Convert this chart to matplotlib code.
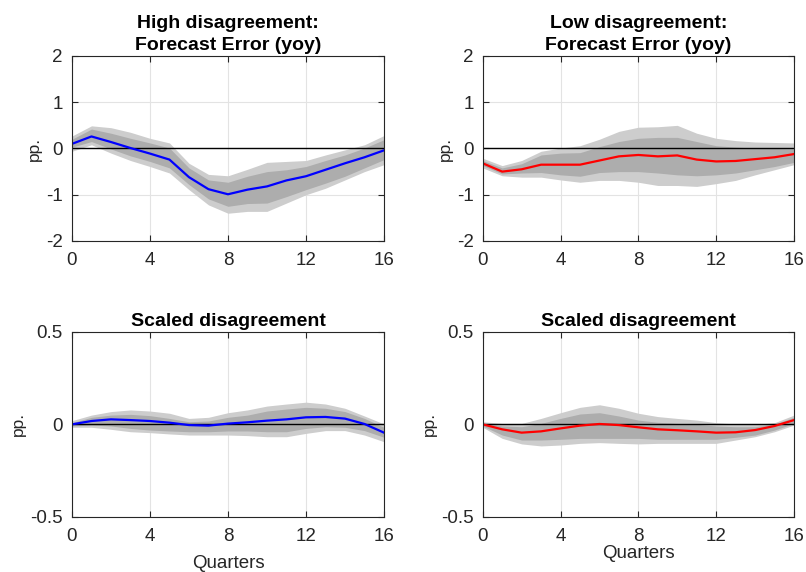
import numpy as np
import matplotlib.pyplot as plt

plt.rcParams['font.family'] = ['Liberation Sans', 'DejaVu Sans']

quarters = np.arange(17)

# High disagreement: forecast error (yoy)
fe_high = [0.10, 0.26, 0.14, 0.01, -0.11, -0.24, -0.62, -0.88, -0.99, -0.89,
           -0.82, -0.69, -0.60, -0.46, -0.32, -0.19, -0.04]
fe_high_lo90 = [-0.06, 0.08, -0.10, -0.26, -0.39, -0.53, -0.89, -1.22, -1.40, -1.36,
                -1.36, -1.18, -1.00, -0.86, -0.68, -0.50, -0.35]
fe_high_lo68 = [0.03, 0.15, -0.01, -0.16, -0.28, -0.42, -0.78, -1.09, -1.25, -1.19,
                -1.18, -1.04, -0.89, -0.75, -0.60, -0.42, -0.24]
fe_high_hi68 = [0.20, 0.42, 0.33, 0.22, 0.12, 0.01, -0.42, -0.68, -0.73, -0.60,
                -0.50, -0.46, -0.39, -0.26, -0.14, 0.01, 0.19]
fe_high_hi90 = [0.27, 0.49, 0.45, 0.35, 0.22, 0.12, -0.32, -0.56, -0.59, -0.45,
                -0.30, -0.28, -0.26, -0.14, -0.03, 0.08, 0.28]

# Low disagreement: forecast error (yoy)
fe_low = [-0.32, -0.50, -0.45, -0.35, -0.35, -0.35, -0.26, -0.17, -0.14, -0.17,
          -0.15, -0.24, -0.28, -0.27, -0.23, -0.19, -0.12]
fe_low_lo90 = [-0.42, -0.59, -0.62, -0.62, -0.68, -0.73, -0.69, -0.69, -0.73, -0.80,
               -0.80, -0.82, -0.76, -0.69, -0.57, -0.46, -0.35]
fe_low_lo68 = [-0.37, -0.55, -0.53, -0.52, -0.57, -0.60, -0.52, -0.50, -0.50, -0.53,
               -0.57, -0.59, -0.57, -0.53, -0.46, -0.39, -0.30]
fe_low_hi68 = [-0.26, -0.42, -0.33, -0.14, -0.10, -0.09, 0.04, 0.15, 0.22, 0.24,
               0.24, 0.15, 0.06, 0.03, 0.01, 0.00, -0.01]
fe_low_hi90 = [-0.21, -0.37, -0.26, -0.06, 0.01, 0.06, 0.20, 0.37, 0.46, 0.47,
               0.50, 0.33, 0.22, 0.17, 0.14, 0.13, 0.12]

# High disagreement: scaled disagreement
sd_high = [0.000, 0.018, 0.027, 0.023, 0.018, 0.009, -0.004, -0.007, 0.004, 0.011,
           0.020, 0.027, 0.038, 0.040, 0.031, 0.002, -0.045]
sd_high_lo90 = [-0.016, -0.016, -0.027, -0.040, -0.045, -0.052, -0.058, -0.058, -0.058, -0.061,
                -0.067, -0.067, -0.049, -0.034, -0.034, -0.058, -0.094]
sd_high_lo68 = [-0.009, -0.004, -0.009, -0.022, -0.031, -0.036, -0.040, -0.040, -0.036, -0.036,
                -0.040, -0.040, -0.022, -0.013, -0.016, -0.034, -0.070]
sd_high_hi68 = [0.009, 0.038, 0.050, 0.054, 0.047, 0.032, 0.014, 0.018, 0.038, 0.050,
                0.072, 0.083, 0.092, 0.087, 0.069, 0.032, -0.016]
sd_high_hi90 = [0.020, 0.050, 0.069, 0.078, 0.072, 0.060, 0.032, 0.038, 0.063, 0.078,
                0.099, 0.110, 0.120, 0.110, 0.087, 0.045, 0.002]

# Low disagreement: scaled disagreement
sd_low = [0.000, -0.027, -0.045, -0.038, -0.022, -0.007, 0.002, -0.004, -0.016, -0.027,
          -0.032, -0.038, -0.045, -0.043, -0.031, -0.009, 0.023]
sd_low_lo90 = [-0.016, -0.076, -0.106, -0.117, -0.112, -0.103, -0.099, -0.103, -0.106, -0.103,
               -0.103, -0.103, -0.103, -0.085, -0.067, -0.040, -0.004]
sd_low_lo68 = [-0.009, -0.058, -0.085, -0.085, -0.081, -0.076, -0.076, -0.076, -0.076, -0.081,
               -0.081, -0.081, -0.081, -0.070, -0.058, -0.031, 0.005]
sd_low_hi68 = [0.005, -0.009, -0.013, 0.005, 0.032, 0.056, 0.063, 0.045, 0.023, 0.011,
               0.005, 0.000, -0.009, -0.013, -0.013, 0.002, 0.038]
sd_low_hi90 = [0.014, 0.005, 0.005, 0.032, 0.063, 0.092, 0.106, 0.087, 0.060, 0.042,
               0.032, 0.023, 0.009, 0.002, 0.000, 0.009, 0.050]

light = '#cdcdcd'
dark = '#adadad'
edge = '#262626'

fig = plt.figure(figsize=(8.06, 5.72), dpi=100)

panels = [
    # rect, median, bands, colour, title, ylim, yticks, xlabel, labelpad
    ([0.0893, 0.5787, 0.3871, 0.3234], fe_high,
     (fe_high_lo90, fe_high_hi90, fe_high_lo68, fe_high_hi68), 'blue',
     'High disagreement:\nForecast Error (yoy)', (-2, 2), [-2, -1, 0, 1, 2], None, 0),
    ([0.5989, 0.5787, 0.3862, 0.3234], fe_low,
     (fe_low_lo90, fe_low_hi90, fe_low_lo68, fe_low_hi68), 'red',
     'Low disagreement:\nForecast Error (yoy)', (-2, 2), [-2, -1, 0, 1, 2], None, 0),
    ([0.0893, 0.0967, 0.3871, 0.3229], sd_high,
     (sd_high_lo90, sd_high_hi90, sd_high_lo68, sd_high_hi68), 'blue',
     'Scaled disagreement', (-0.5, 0.5), [-0.5, 0, 0.5], 'Quarters', 7),
    ([0.5989, 0.0967, 0.3862, 0.3229], sd_low,
     (sd_low_lo90, sd_low_hi90, sd_low_lo68, sd_low_hi68), 'red',
     'Scaled disagreement', (-0.5, 0.5), [-0.5, 0, 0.5], 'Quarters', 0),
]

for rect, med, bands, col, title, ylim, yticks, xlab, pad in panels:
    ax = fig.add_axes(rect)
    lo90, hi90, lo68, hi68 = bands
    ax.fill_between(quarters, lo90, hi90, color=light, lw=0, zorder=1)
    ax.fill_between(quarters, lo68, hi68, color=dark, lw=0, zorder=2)
    ax.axhline(0, color='black', lw=1.0, zorder=3)
    ax.plot(quarters, med, color=col, lw=1.6, zorder=4)
    ax.set_xlim(0, 16)
    ax.set_ylim(*ylim)
    ax.set_xticks([0, 4, 8, 12, 16])
    ax.set_yticks(yticks)
    ax.set_yticklabels([('%g' % t) for t in yticks])
    ax.grid(True, color='#e3e3e3', lw=0.8, zorder=0)
    ax.set_axisbelow(True)
    ax.tick_params(direction='in', top=True, right=True, length=4,
                   width=0.8, colors=edge, labelsize=13.5, labelcolor='#262626')
    ax.tick_params(axis='x', pad=8)
    ax.tick_params(axis='y', pad=6.5)
    for s in ax.spines.values():
        s.set_color(edge)
        s.set_linewidth(0.8)
        s.set_zorder(5)
    ax.set_title(title, fontsize=14, fontweight='bold', pad=4, linespacing=1.4)
    ax.set_ylabel('pp.', fontsize=12.5, labelpad=3, color='#262626')
    if xlab:
        ax.set_xlabel(xlab, fontsize=13.5, labelpad=pad, color='#262626')

fig.savefig('out.png', dpi=100)
